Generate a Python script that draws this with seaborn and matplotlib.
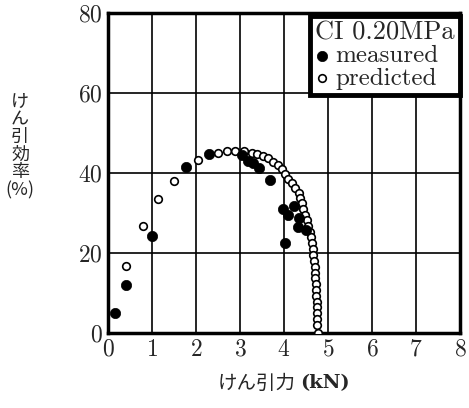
# traction efficiency vs. traction force (CI 0.20MPa)

import numpy as np
import pandas as pd
import matplotlib as mpl
mpl.use('Agg')
import matplotlib.pyplot as plt
import seaborn as sns

# measured points
meas_x = [0.16, 0.40, 1.01, 1.78, 2.30, 3.04, 3.19, 3.29, 3.44, 3.68,
          3.97, 4.02, 4.10, 4.22, 4.33, 4.31, 4.50]
meas_y = [4.9, 12.0, 24.3, 41.6, 44.8, 44.5, 43.1, 42.6, 41.2, 38.3,
          30.9, 22.6, 29.6, 31.7, 28.7, 26.6, 25.8]

# predicted points
pred_x = [0.42, 0.80, 1.14, 1.49, 2.05, 2.51, 2.70, 2.89, 3.08, 3.27,
          3.38, 3.53, 3.64, 3.76, 3.87, 3.95, 4.02, 4.10, 4.18, 4.25,
          4.33, 4.36, 4.40, 4.44, 4.48, 4.52, 4.55, 4.58, 4.61, 4.63,
          4.65, 4.67, 4.68, 4.70, 4.70, 4.71, 4.72, 4.73, 4.73, 4.74,
          4.75, 4.75, 4.76, 4.76, 4.77]
pred_y = [16.8, 26.8, 33.4, 38.1, 43.3, 45.1, 45.4, 45.6, 45.4, 44.9,
          44.75, 44.25, 43.7, 42.8, 42.0, 40.9, 39.75, 38.4, 37.4, 36.2,
          34.9, 33.7, 32.4, 30.9, 29.5, 28.25, 26.75, 25.3, 23.9, 22.4,
          20.9, 19.5, 18.1, 16.6, 15.1, 13.7, 12.25, 10.75, 9.25, 7.8,
          6.4, 4.9, 3.4, 2.0, 0.0]

x_ticks = [0, 1, 2, 3, 4, 5, 6, 7, 8]
y_ticks = [0, 20, 40, 60, 80]

sns.set_style('white')
plt.rcParams['font.family'] = ['cmr10', 'Noto Sans CJK JP', 'DejaVu Sans']
plt.rcParams['axes.unicode_minus'] = False
plt.rcParams['axes.formatter.use_mathtext'] = True

meas = pd.DataFrame({'force': meas_x, 'eff': meas_y})
pred = pd.DataFrame({'force': pred_x, 'eff': pred_y})

fig = plt.figure(figsize=(4.69, 4.08), dpi=100)
ax = fig.add_axes([0.2303, 0.1838, 0.7505, 0.7842])

sns.scatterplot(data=pred, x='force', y='eff', ax=ax, s=30, marker='o',
                facecolor='white', edgecolor='black', linewidth=1.2,
                label='predicted', zorder=3)
sns.scatterplot(data=meas, x='force', y='eff', ax=ax, s=55, marker='o',
                color='black', edgecolor='black', linewidth=0.5,
                label='measured', zorder=4)

ax.set_xlim(0, 8)
ax.set_ylim(0, 80)
ax.set_xticks(x_ticks)
ax.set_yticks(y_ticks)
ax.tick_params(length=0, labelsize=17, pad=4)
ax.grid(True, color='black', linewidth=1.2)
ax.set_axisbelow(True)
for sp in ax.spines.values():
    sp.set_linewidth(2.5)
    sp.set_color('black')
ax.set_xlabel('')
ax.set_ylabel('')

h, l = ax.get_legend_handles_labels()
leg = ax.legend([h[1], h[0]], [l[1], l[0]], title='CI 0.20MPa',
                loc='upper right', bbox_to_anchor=(1.0, 0.99),
                fontsize=18, title_fontsize=19, frameon=True,
                fancybox=False, framealpha=1, borderpad=0.2,
                handletextpad=0.3, labelspacing=0.0, handlelength=0.5,
                borderaxespad=0.0, markerscale=1.0)
leg.get_frame().set_edgecolor('black')
leg.get_frame().set_linewidth(3.5)
leg._legend_box.align = 'left'
leg._legend_box.sep = 0

fig.text(20 / 469, 1 - 146 / 408, 'け\nん\n引\n効\n率\n(%)', ha='center',
         va='center', fontsize=13, linespacing=0.98,
         family=['Noto Sans CJK JP'])
fig.text(296 / 469, 1 - 383 / 408, 'けん引力', ha='right',
         va='center', fontsize=14, family=['Noto Sans CJK JP'])
fig.text(300 / 469, 1 - 383 / 408, '(kN)', ha='left',
         va='center', fontsize=14, weight='bold', family=['DejaVu Serif'])

fig.savefig('out.png', dpi=100)
